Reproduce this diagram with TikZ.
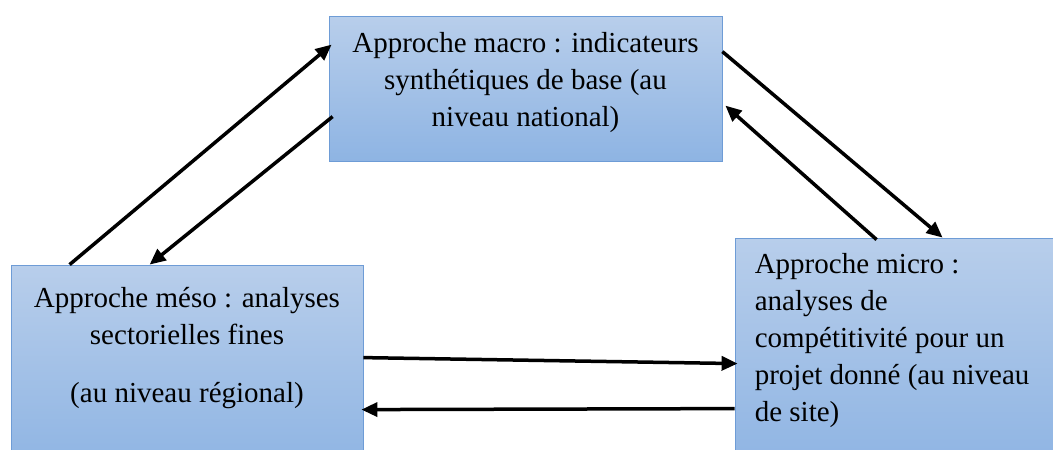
\documentclass[tikz,border=0pt]{standalone}
\usepackage{fontspec}
\setmainfont{Liberation Serif}
\newfontfamily\boxfont{Liberation Serif}
\definecolor{boxtop}{RGB}{184,206,235}
\definecolor{boxbottom}{RGB}{142,180,227}
\definecolor{boxline}{RGB}{110,156,214}
\usetikzlibrary{arrows.meta, positioning}

\begin{document}
\begin{tikzpicture}[x=1pt, y=-1pt,
  panel/.style={draw=boxline, line width=0.8pt, top color=boxtop, bottom color=boxbottom, inner sep=0pt},
  boxtext/.style={font=\boxfont\fontsize{29pt}{37pt}\selectfont, inner sep=0pt},
  link/.style={line width=3.5pt, -{Triangle[length=16pt,width=14pt]}}]
  \useasboundingbox (0,0) rectangle (1053,450);
  \clip (0,0) rectangle (1053,450);

  % Boxes
  \node[panel, minimum width=393pt, minimum height=145pt] (macro) at (525.5,88.5) {};
  \node[panel, minimum width=352pt, minimum height=205pt] (meso) at (187,367.5) {};
  \node[panel, minimum width=330pt, minimum height=232pt] (micro) at (900,354) {};

  % Texts
  \node[boxtext, align=center, below=17pt of macro.north] (macrotext) {Approche macro : indicateurs\\synthétiques de base (au\\niveau national)};
  \node[boxtext, align=center, below=23pt of meso.north] (mesotext) {Approche méso : analyses\\sectorielles fines\\[21pt](au niveau régional)};
  \node[boxtext, align=left, below right=16pt and 20pt of micro.north west] (microtext) {Approche micro :\\analyses de\\compétitivité pour un\\projet donné (au niveau\\de site)};

  % Links
  \draw[link] ([xshift=59pt]meso.north west) -- ([xshift=3pt,yshift=-29pt]macro.north west);
  \draw[link] ([xshift=4pt,yshift=-101pt]macro.north west) -- ([xshift=139pt]meso.north west);
  \draw[link] ([yshift=-36pt]macro.north east) -- ([xshift=208pt]micro.north west);
  \draw[link] ([xshift=142pt,yshift=-2pt]micro.north west) -- ([xshift=3pt,yshift=-90pt]macro.north east);
  \draw[link] ([yshift=-93pt]meso.north east) -- ([xshift=3pt,yshift=-126pt]micro.north west);
  \draw[link] ([yshift=-171pt]micro.north west) -- ([xshift=-2pt,yshift=-145pt]meso.north east);
\end{tikzpicture}
\end{document}
